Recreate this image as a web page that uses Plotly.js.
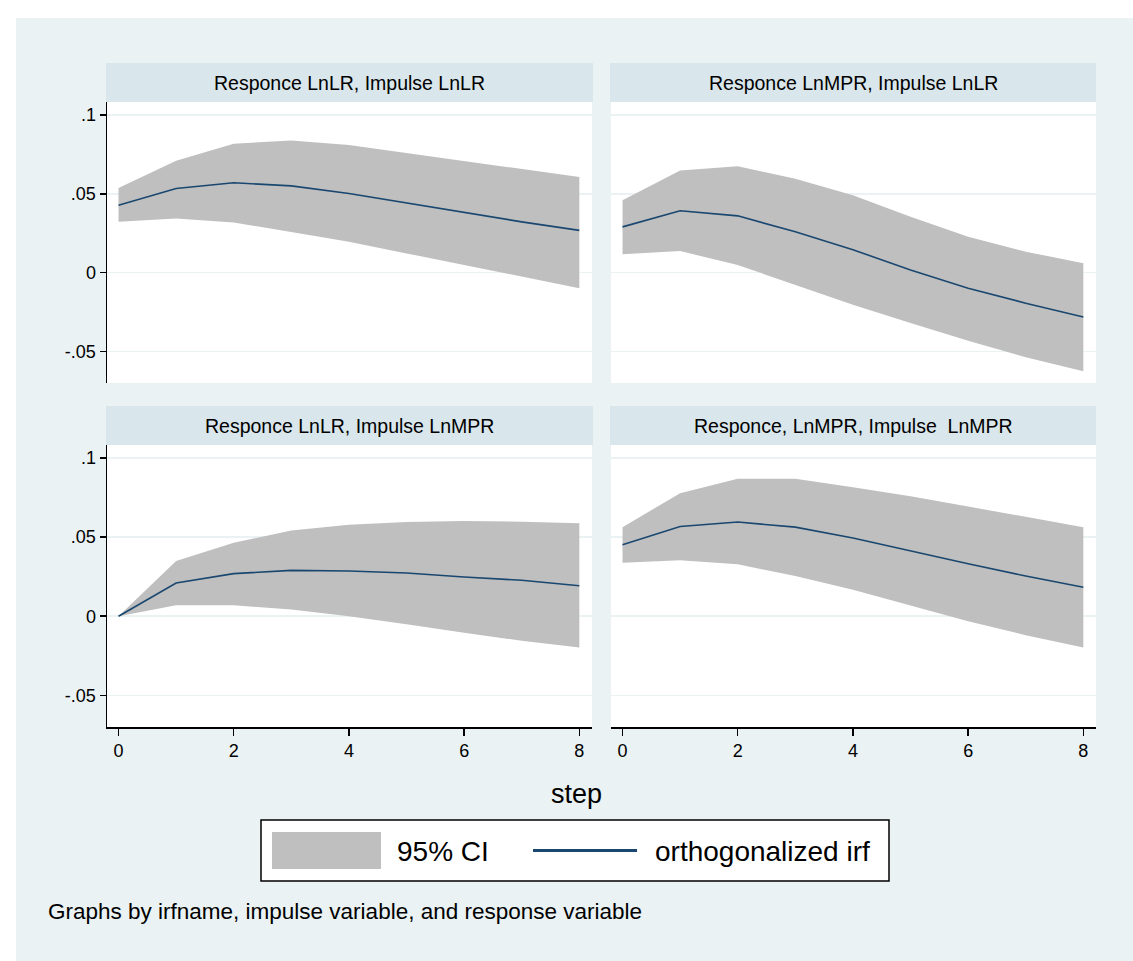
<!DOCTYPE html>
<html>
<head>
<meta charset="utf-8">
<script src="https://cdn.plot.ly/plotly-3.0.1.min.js"></script>
<style>body{margin:0;background:#fff}</style>
</head>
<body>
<div id="chart" style="width:1133px;height:961px"></div>
<script>
// ---------------- data ----------------
const steps = [0, 1, 2, 3, 4, 5, 6, 7, 8];
const panelTitles = [
  "Responce LnLR, Impulse LnLR",
  "Responce LnMPR, Impulse LnLR",
  "Responce LnLR, Impulse LnMPR",
  "Responce, LnMPR, Impulse  LnMPR"
];
// Responce LnLR, Impulse LnLR
const irf_LR_LR = [0.0427, 0.0533, 0.0570, 0.0550, 0.0502, 0.0443, 0.0380, 0.0322, 0.0268];
const lo_LR_LR  = [0.0322, 0.0343, 0.0318, 0.0259, 0.0196, 0.0122, 0.0048, -0.0025, -0.0099];
const hi_LR_LR  = [0.0537, 0.0710, 0.0817, 0.0838, 0.0810, 0.0760, 0.0710, 0.0660, 0.0606];
// Responce LnMPR, Impulse LnLR
const irf_MPR_LR = [0.0290, 0.0392, 0.0360, 0.0259, 0.0145, 0.0017, -0.0099, -0.0194, -0.0282];
const lo_MPR_LR  = [0.0116, 0.0137, 0.0048, -0.0078, -0.0204, -0.0320, -0.0432, -0.0537, -0.0625];
const hi_MPR_LR  = [0.0459, 0.0648, 0.0674, 0.0596, 0.0490, 0.0354, 0.0227, 0.0133, 0.0059];
// Responce LnLR, Impulse LnMPR
const irf_LR_MPR = [0.0, 0.0210, 0.0269, 0.0290, 0.0286, 0.0273, 0.0248, 0.0227, 0.0193];
const lo_LR_MPR  = [0.0, 0.0069, 0.0069, 0.0042, 0.0000, -0.0050, -0.0105, -0.0155, -0.0197];
const hi_LR_MPR  = [0.0, 0.0349, 0.0464, 0.0542, 0.0578, 0.0595, 0.0601, 0.0597, 0.0588];
// Responce LnMPR, Impulse LnMPR
const irf_MPR_MPR = [0.0452, 0.0567, 0.0595, 0.0563, 0.0494, 0.0412, 0.0332, 0.0254, 0.0183];
const lo_MPR_MPR  = [0.0338, 0.0353, 0.0328, 0.0254, 0.0168, 0.0069, -0.0032, -0.0120, -0.0197];
const hi_MPR_MPR  = [0.0563, 0.0777, 0.0868, 0.0868, 0.0815, 0.0758, 0.0693, 0.0626, 0.0563];

const yTickVals = [-0.05, 0, 0.05, 0.1];
const yTickText = ["-.05", "0", ".05", ".1"];
const xTickVals = [0, 2, 4, 6, 8];
const xTickText = ["0", "2", "4", "6", "8"];
const legendLabels = ["95% CI", "orthogonalized irf"];
const xAxisTitle = "step";
const note = "Graphs by irfname, impulse variable, and response variable";

// ---------------- layout helpers ----------------
const W = 1133, H = 961;
const px = v => v / W;
const py = v => 1 - v / H;

const CI_COLOR = "#bfbfbf";
const LINE_COLOR = "#1a476f";
const GRID = "#eaf2f3";
const SANS = "'Liberation Sans', Arial, Helvetica, sans-serif";

const panels = [
  {irf: irf_LR_LR,  lo: lo_LR_LR,  hi: hi_LR_LR,  xa: "x",  ya: "y"},
  {irf: irf_MPR_LR, lo: lo_MPR_LR, hi: hi_MPR_LR, xa: "x2", ya: "y2"},
  {irf: irf_LR_MPR, lo: lo_LR_MPR, hi: hi_LR_MPR, xa: "x3", ya: "y3"},
  {irf: irf_MPR_MPR, lo: lo_MPR_MPR, hi: hi_MPR_MPR, xa: "x4", ya: "y4"}
];

const traces = [];
panels.forEach(p => {
  traces.push({x: steps, y: p.lo, xaxis: p.xa, yaxis: p.ya, type: "scatter", mode: "lines",
    line: {width: 0, color: CI_COLOR}, showlegend: false, hoverinfo: "skip"});
  traces.push({x: steps, y: p.hi, xaxis: p.xa, yaxis: p.ya, type: "scatter", mode: "lines",
    fill: "tonexty", fillcolor: CI_COLOR, line: {width: 0, color: CI_COLOR}, showlegend: false, name: legendLabels[0]});
  traces.push({x: steps, y: p.irf, xaxis: p.xa, yaxis: p.ya, type: "scatter", mode: "lines",
    line: {width: 1.6, color: LINE_COLOR}, showlegend: false, name: legendLabels[1]});
});

const colL = [px(107), px(592)], colR = [px(611), px(1096)];
const rowT = [py(383), py(102)], rowB = [py(727), py(445)];
const XR = [-0.2, 8.22], YR = [-0.0700, 0.1082];

function xax(domain, showAxis, anchor) {
  return {domain: domain, range: XR, anchor: anchor, showgrid: false, zeroline: false,
    showline: showAxis, linecolor: "#000", linewidth: 1.5,
    ticks: showAxis ? "outside" : "", ticklen: 7, tickwidth: 1.5, tickcolor: "#000",
    tickvals: xTickVals, ticktext: xTickText, showticklabels: showAxis,
    tickfont: {family: SANS, size: 18, color: "#000"}, fixedrange: true};
}
function yax(domain, showAxis, anchor) {
  return {domain: domain, range: YR, anchor: anchor, showgrid: true, gridcolor: GRID, gridwidth: 1.5,
    zeroline: false, showline: showAxis, linecolor: "#000", linewidth: 1.5,
    ticks: showAxis ? "outside" : "", ticklen: 6, tickwidth: 1.5, tickcolor: "#000",
    tickvals: yTickVals, ticktext: yTickText, showticklabels: showAxis,
    tickfont: {family: SANS, size: 18, color: "#000"}, fixedrange: true};
}

const shapes = [
  {type: "rect", xref: "paper", yref: "paper", x0: px(16), x1: 1, y0: 0, y1: py(18),
   fillcolor: "#eaf2f3", line: {width: 0}, layer: "below"},
  ...[[colL, rowT], [colR, rowT], [colL, rowB], [colR, rowB]].map(([c, r]) => ({
    type: "rect", xref: "paper", yref: "paper", x0: c[0], x1: c[1], y0: r[0], y1: r[1],
    fillcolor: "#ffffff", line: {width: 0}, layer: "below"})),
  ...[[106, 593, 63, 102], [610, 1096, 63, 102], [106, 593, 406, 445], [610, 1096, 406, 445]].map(s => ({
    type: "rect", xref: "paper", yref: "paper", x0: px(s[0]), x1: px(s[1]), y0: py(s[3]), y1: py(s[2]),
    fillcolor: "#d9e6eb", line: {width: 0}, layer: "below"})),
  {type: "rect", xref: "paper", yref: "paper", x0: px(261), x1: px(889), y0: py(881), y1: py(820),
   fillcolor: "#ffffff", line: {color: "#000", width: 1.5}, layer: "above"},
  {type: "rect", xref: "paper", yref: "paper", x0: px(272), x1: px(381), y0: py(869), y1: py(832),
   fillcolor: CI_COLOR, line: {width: 0}, layer: "above"},
  {type: "line", xref: "paper", yref: "paper", x0: px(533), x1: px(637), y0: py(850.5), y1: py(850.5),
   line: {color: LINE_COLOR, width: 3}, layer: "above"}
];

const stripCenters = [[349.5, 83], [853, 83], [349.5, 426], [853, 426]];
const annotations = panelTitles.map((t, i) => ({
  text: t, xref: "paper", yref: "paper", x: px(stripCenters[i][0]), y: py(stripCenters[i][1]),
  xanchor: "center", yanchor: "middle", showarrow: false,
  font: {family: SANS, size: 19.5, color: "#000"}
}));
annotations.push({text: xAxisTitle, xref: "paper", yref: "paper", x: px(576), y: py(794),
  xanchor: "center", yanchor: "middle", showarrow: false, font: {family: SANS, size: 27, color: "#000"}});
annotations.push({text: legendLabels[0], xref: "paper", yref: "paper", x: px(395), y: py(851),
  xanchor: "left", yanchor: "middle", showarrow: false, font: {family: SANS, size: 28, color: "#000"}});
annotations.push({text: legendLabels[1], xref: "paper", yref: "paper", x: px(653), y: py(851),
  xanchor: "left", yanchor: "middle", showarrow: false, font: {family: SANS, size: 28, color: "#000"}});
annotations.push({text: note, xref: "paper", yref: "paper", x: px(46), y: py(911),
  xanchor: "left", yanchor: "middle", showarrow: false, font: {family: SANS, size: 22.5, color: "#000"}});

const layout = {
  width: W, height: H,
  margin: {l: 0, r: 0, t: 0, b: 0, pad: 0},
  paper_bgcolor: "#ffffff", plot_bgcolor: "rgba(0,0,0,0)",
  showlegend: false,
  xaxis: xax(colL, false, "y"), yaxis: yax(rowT, true, "x"),
  xaxis2: xax(colR, false, "y2"), yaxis2: yax(rowT, false, "x2"),
  xaxis3: xax(colL, true, "y3"), yaxis3: yax(rowB, true, "x3"),
  xaxis4: xax(colR, true, "y4"), yaxis4: yax(rowB, false, "x4"),
  shapes: shapes, annotations: annotations
};

Plotly.newPlot("chart", traces, layout, {staticPlot: true, displayModeBar: false});
</script>
</body>
</html>
